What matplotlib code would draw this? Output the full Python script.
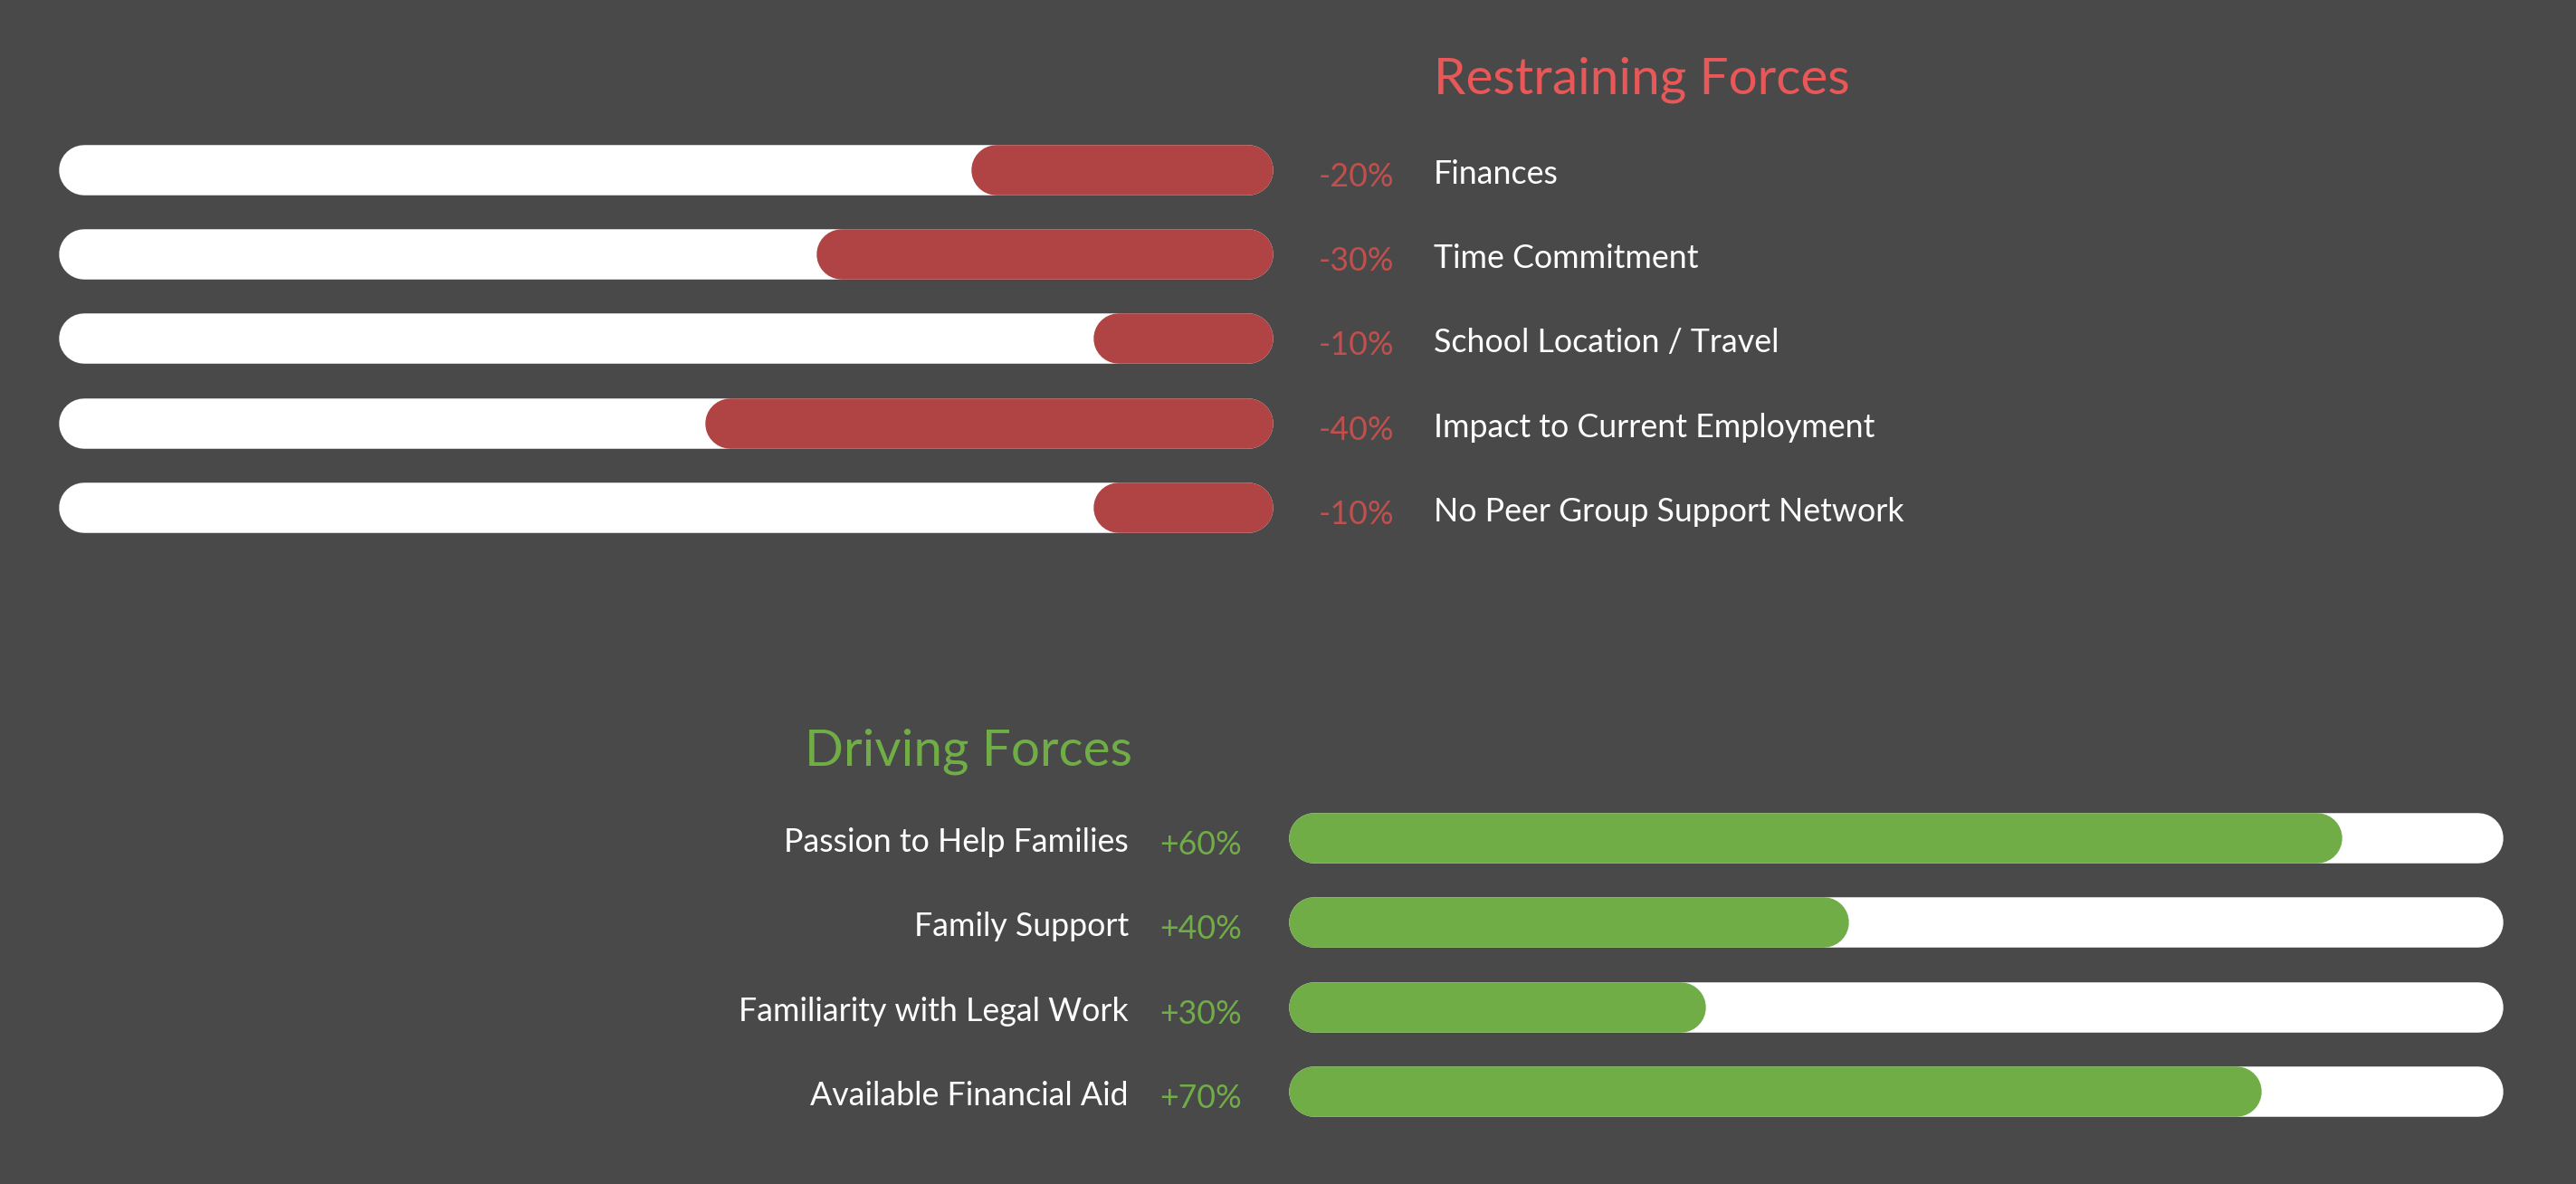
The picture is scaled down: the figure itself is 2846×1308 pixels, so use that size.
import matplotlib
matplotlib.use("Agg")
import matplotlib.pyplot as plt

plt.rcParams["font.family"] = ["Lato", "DejaVu Sans"]

# --- data ---
restrain_labels = ["Finances", "Time Commitment", "School Location / Travel",
                   "Impact to Current Employment", "No Peer Group Support Network"]
restrain_pct = ["-20%", "-30%", "-10%", "-40%", "-10%"]
restrain_fill = [24.9, 37.6, 14.8, 46.8, 14.8]      # share of track filled

drive_labels = ["Passion to Help Families", "Family Support",
                "Familiarity with Legal Work", "Available Financial Aid"]
drive_pct = ["+60%", "+40%", "+30%", "+70%"]
drive_fill = [86.7, 46.1, 34.3, 80.1]

# --- style ---
BG = "#494949"
TRACK = "#FFFFFF"
RED_BAR = "#B04444"
RED_TXT = "#C0504D"
RED_TITLE = "#E85858"
GREEN = "#70AD47"

W, H, DPI = 2846, 1308, 200
BAR_PX = 55.5
ROW_PX = 93.3
LW = BAR_PX * 72 / DPI          # line width in points
LABEL_FS = 12.9
TITLE_FS = 20.4

fig = plt.figure(figsize=(W / DPI, H / DPI), dpi=DPI, facecolor=BG)


def make_axes(left_px, top_px, width_px, nrows):
    h = nrows * ROW_PX
    ax = fig.add_axes([left_px / W, 1 - (top_px + h) / H, width_px / W, h / H])
    ax.set_xlim(0, 100)
    ax.set_ylim(nrows - 0.5, -0.5)
    ax.axis("off")
    return ax


def pill(ax, x0, x1, y, color, width_px):
    # rounded bar: round caps stick out by half the bar height
    r = BAR_PX / 2 / width_px * 100
    ax.plot([x0 + r, x1 - r], [y, y], color=color, lw=LW,
            solid_capstyle="round", zorder=3 if color != TRACK else 2)


# restraining forces (top)
track_w = 1342
ax1 = make_axes(65, 187.7 - ROW_PX / 2, track_w, len(restrain_labels))
lab_off = 15 / ROW_PX
pct_off = 18 / ROW_PX
for i, (lab, pct, f) in enumerate(zip(restrain_labels, restrain_pct, restrain_fill)):
    pill(ax1, 0, 100, i, TRACK, track_w)
    pill(ax1, 100 - f, 100, i, RED_BAR, track_w)
    ax1.text(103.7, i + pct_off, pct, color=RED_TXT, fontsize=LABEL_FS,
             ha="left", va="baseline", clip_on=False)
    ax1.text(113.2, i + lab_off, lab, color="white", fontsize=LABEL_FS,
             ha="left", va="baseline", clip_on=False)
ax1.text(113.2, -0.90, "Restraining Forces", color=RED_TITLE, fontsize=TITLE_FS,
         ha="left", va="baseline", clip_on=False)

# driving forces (bottom)
ax2 = make_axes(1424, 926 - ROW_PX / 2, track_w, len(drive_labels))
for i, (lab, pct, f) in enumerate(zip(drive_labels, drive_pct, drive_fill)):
    pill(ax2, 0, 100, i, TRACK, track_w)
    pill(ax2, 0, f, i, GREEN, track_w)
    ax2.text(-10.6, i + pct_off, pct, color=GREEN, fontsize=LABEL_FS,
             ha="left", va="baseline", clip_on=False)
    ax2.text(-13.2, i + lab_off, lab, color="white", fontsize=LABEL_FS,
             ha="right", va="baseline", clip_on=False)
ax2.text(-12.9, -0.86, "Driving Forces", color=GREEN, fontsize=TITLE_FS,
         ha="right", va="baseline", clip_on=False)

fig.savefig("out.png", dpi=DPI, facecolor=BG)
